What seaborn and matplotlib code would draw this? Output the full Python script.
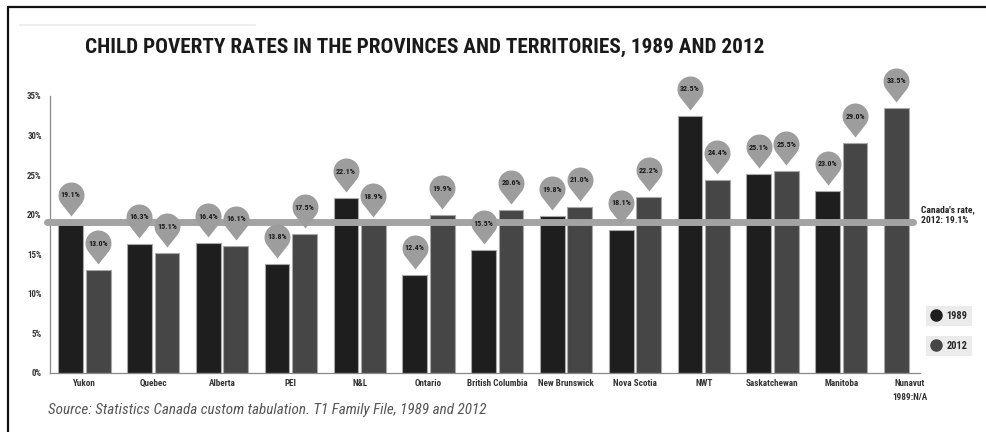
import numpy as np
import pandas as pd
import matplotlib
matplotlib.use("Agg")
import matplotlib.pyplot as plt
import seaborn as sns
from matplotlib.path import Path
from matplotlib.lines import Line2D
from matplotlib import font_manager

# data
provinces = ["Yukon", "Quebec", "Alberta", "PEI", "N&L", "Ontario", "British Columbia",
             "New Brunswick", "Nova Scotia", "NWT", "Saskatchewan", "Manitoba", "Nunavut"]
rate_1989 = [19.1, 16.3, 16.4, 13.8, 22.1, 12.4, 15.5, 19.8, 18.1, 32.5, 25.1, 23.0, np.nan]
rate_2012 = [13.0, 15.1, 16.1, 17.5, 18.9, 19.9, 20.6, 21.0, 22.2, 24.4, 25.5, 29.0, 33.5]
years = ["1989", "2012"]
canada_2012 = 19.1
y_ticks = [0, 5, 10, 15, 20, 25, 30, 35]
tick_labels = provinces[:-1] + ["Nunavut\n1989:N/A"]

df = pd.DataFrame({
    "province": provinces * 2,
    "year": [years[0]] * len(provinces) + [years[1]] * len(provinces),
    "rate": rate_1989 + rate_2012,
})

sns.set_style("white")
names = {f.name for f in font_manager.fontManager.ttflist}
narrow = next((n for n in ["Liberation Sans Narrow", "Roboto Condensed", "DejaVu Sans"] if n in names), "DejaVu Sans")
plt.rcParams["font.family"] = [narrow, "DejaVu Sans"]
plt.rcParams["font.stretch"] = "condensed"

fig = plt.figure(figsize=(9.87, 4.32), dpi=100)
ax = fig.add_axes([0.0507, 0.1366, 0.8815, 0.6412])

sns.barplot(data=df, x="province", y="rate", hue="year", order=provinces, hue_order=years,
            palette=["#1e1e1e", "#464646"], width=0.8, gap=0.1,
            edgecolor="#a8a8a8", linewidth=0.8, legend=False, ax=ax, zorder=2)

# Nunavut has no 1989 value: its 2012 bar sits in the first slot
bars = [p for p in ax.patches if np.isfinite(p.get_height()) and p.get_height() > 0]
for p in bars:
    if p.get_x() > len(provinces) - 1 and p.get_facecolor()[0] > 0.2:
        p.set_x(p.get_x() - 0.4)

ax.set_xlim(-0.5, 12.145)
ax.set_ylim(0, 35)
ax.set_yticks(y_ticks)
ax.set_yticklabels([f"{t}%" for t in y_ticks])
ax.set_xticks(range(len(provinces)))
ax.set_xticklabels(tick_labels)
for t in ax.get_xticklabels():
    t.set_linespacing(1.8)
ax.set_xticks(list(np.arange(-0.5, 12, 1)) + [12.145], minor=True)
ax.tick_params(axis="x", which="major", length=0, pad=4, labelsize=6.6, labelcolor="#333333")
ax.tick_params(axis="x", which="minor", length=6, direction="inout", color="#888888", width=0.8)
ax.tick_params(axis="y", length=4, width=0.8, color="#888888", labelsize=6.4, labelcolor="#333333", pad=2)
for lab in ax.get_xticklabels() + ax.get_yticklabels():
    lab.set_fontweight("bold")
ax.set_xlabel("")
ax.set_ylabel("")
sns.despine(ax=ax)
for s in ["left", "bottom"]:
    ax.spines[s].set_color("#888888")
    ax.spines[s].set_linewidth(0.9)

# Canada's rate line
ax.axhline(canada_2012, xmin=-0.003, xmax=0.992, color="#a3a3a3", lw=5, zorder=3, clip_on=False)
ax.annotate(f"Canada's rate,\n2012: {canada_2012}%", (1.0, canada_2012),
            xycoords=("axes fraction", "data"), xytext=(1, 5), textcoords="offset points",
            ha="left", va="center", fontsize=6.8, fontweight="bold", color="#222222")

# pin markers above each bar
r, cy, tip = 13, 27, 6
a0 = -np.pi / 2 + np.arccos(r / (cy - tip))
a1 = -np.pi / 2 - np.arccos(r / (cy - tip)) + 2 * np.pi
th = np.linspace(a0, a1, 50)
verts = [(0, tip)] + [(r * np.cos(t), cy + r * np.sin(t)) for t in th] + [(0, tip)]
codes = [Path.MOVETO] + [Path.LINETO] * (len(verts) - 2) + [Path.CLOSEPOLY]
pin = Path(verts, codes)
m = 0.72 * 2 * (cy + r)

xs = [p.get_x() + p.get_width() / 2 for p in bars]
hs = [p.get_height() for p in bars]
ax.scatter(xs, hs, marker=pin, s=m ** 2, color="#9d9d9d", linewidths=0, zorder=4, clip_on=False)
for x, h in zip(xs, hs):
    ax.annotate(f"{h:.1f}%", (x, h), xytext=(0, cy * 0.72), textcoords="offset points",
                ha="center", va="center", fontsize=5.8, fontweight="bold", color="#1a1a1a",
                zorder=5, annotation_clip=False)

# legend boxes
for yy, lab, col in [(0.2685, years[0], "#1e1e1e"), (0.199, years[1], "#464646")]:
    h = Line2D([], [], marker="o", ls="", markersize=8, color=col)
    lg = fig.legend([h], [lab], loc="center", bbox_to_anchor=(0.9615, yy), frameon=True,
                    fancybox=False, handletextpad=0.5, borderpad=0.45, handlelength=1.0,
                    borderaxespad=0, prop={"size": 7.5, "weight": "bold"})
    lg.get_frame().set_facecolor("#e6e6e6")
    lg.get_frame().set_edgecolor("none")

# title, source and frame
fig.text(0.0861, 0.891, "CHILD POVERTY RATES IN THE PROVINCES AND TERRITORIES, 1989 AND 2012",
         ha="left", va="center", fontsize=15.3, fontweight="bold", color="#1a1a1a")
fig.text(0.0486, 0.051, "Source: Statistics Canada custom tabulation. T1 Family File, 1989 and 2012",
         ha="left", va="center", fontsize=10.9, style="italic", color="#555555")
fig.add_artist(Line2D([8 / 987, 1], [1 - 7 / 432] * 2, color="#111111", lw=1.6))
fig.add_artist(Line2D([8 / 987] * 2, [0, 1 - 7 / 432], color="#111111", lw=1.6))
fig.add_artist(Line2D([20 / 987, 255 / 987], [1 - 25 / 432] * 2, color="#eeeeee", lw=1.5))

fig.savefig("out.png", dpi=100)
